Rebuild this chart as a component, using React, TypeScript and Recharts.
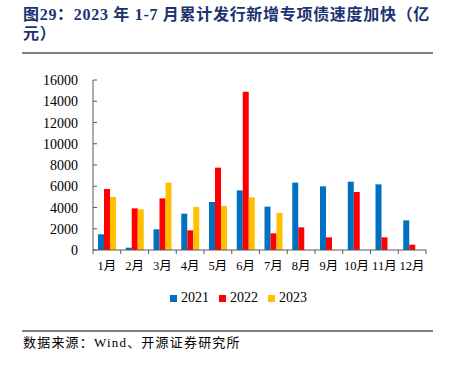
import React from 'react';
import { BarChart, Bar, XAxis, YAxis, Legend } from 'recharts';

const months = ['1月', '2月', '3月', '4月', '5月', '6月', '7月', '8月', '9月', '10月', '11月', '12月'];
const s2021 = [1480, 220, 1950, 3420, 4520, 5610, 4080, 6340, 5990, 6430, 6180, 2790];
const s2022 = [5740, 3920, 4860, 1850, 7750, 14900, 1570, 2130, 1190, 5460, 1190, 500];
const s2023: (number | null)[] = [4990, 3830, 6340, 4050, 4140, 4960, 3480, null, null, null, null, null];
const yTicks = [0, 2000, 4000, 6000, 8000, 10000, 12000, 14000, 16000];

const data = months.map((m, i) => ({ m, a: s2021[i], b: s2022[i], c: s2023[i] }));

const SERIF = '"Liberation Serif", "Times New Roman", serif';
const TITLE_FONT = '"Liberation Serif", "Noto Sans CJK SC", serif';

const YTick = (props: any) => {
  const { x, y, payload } = props;
  return (
    <g>
      <line x1={x + 15} x2={x + 19} y1={y} y2={y} stroke="#595959" strokeWidth={1} />
      <text x={x} y={y} dy={5} textAnchor="end" fontSize={14} fontFamily={SERIF} fill="#000">
        {payload.value}
      </text>
    </g>
  );
};

const XTick = (props: any) => {
  const { x, y, payload, index } = props;
  const half = payload && payload.offset ? payload.offset : 13.875;
  return (
    <g>
      <line x1={x - half} x2={x - half} y1={y} y2={y + 4} stroke="#595959" strokeWidth={1} />
      {index === months.length - 1 && (
        <line x1={x + half} x2={x + half} y1={y} y2={y + 4} stroke="#595959" strokeWidth={1} />
      )}
      <text x={x} y={y + 20} textAnchor="middle" fontSize={12.5} fontFamily={TITLE_FONT} fill="#000">
        {payload.value}
      </text>
    </g>
  );
};

export default function App() {
  return (
    <div style={{ position: 'absolute', left: 0, top: 0, width: 453, height: 369, background: '#fff', fontFamily: SERIF }}>
      <div
        style={{
          position: 'absolute',
          left: 23,
          top: 5,
          fontFamily: TITLE_FONT,
          fontWeight: 'bold',
          fontSize: 16,
          lineHeight: '19px',
          color: '#1B3370',
          letterSpacing: 0.7,
          whiteSpace: 'nowrap',
        }}
      >
        <div>图29：2023 年 1-7 月累计发行新增专项债速度加快（亿</div>
        <div>元）</div>
      </div>
      <div style={{ position: 'absolute', left: 22, top: 52, width: 411, height: 1.5, background: '#7f7f7f' }} />
      <div style={{ position: 'absolute', left: 0, top: 0 }}>
        <BarChart
          width={453}
          height={369}
          data={data}
          margin={{ top: 80, right: 27, bottom: 89, left: 33 }}
          barSize={6}
          barGap={0}
        >
          <XAxis
            dataKey="m"
            tickLine={false}
            tickSize={0}
            tickMargin={0}
            height={30}
            stroke="#595959"
            interval={0}
            tick={<XTick />}
          />
          <YAxis
            domain={[0, 16000]}
            ticks={yTicks}
            width={60}
            tickLine={false}
            tickSize={0}
            tickMargin={15}
            stroke="#595959"
            interval={0}
            tick={<YTick />}
          />
          <Legend
            layout="horizontal"
            align="center"
            verticalAlign="middle"
            iconType="square"
            iconSize={7}
            formatter={(v: string) => (
              <span style={{ color: '#000', fontSize: 14, fontFamily: SERIF }}>{v}</span>
            )}
            wrapperStyle={{ position: 'absolute', left: 170, top: 288, width: 'auto', height: 'auto' }}
          />
          <Bar dataKey="a" name="2021" fill="#0070C0" isAnimationActive={false} />
          <Bar dataKey="b" name="2022" fill="#FF0000" isAnimationActive={false} />
          <Bar dataKey="c" name="2023" fill="#FFC000" isAnimationActive={false} />
        </BarChart>
      </div>
      <div style={{ position: 'absolute', left: 22, top: 330, width: 411, height: 1.5, background: '#7f7f7f' }} />
      <div
        style={{
          position: 'absolute',
          left: 23,
          top: 335,
          fontFamily: TITLE_FONT,
          fontSize: 13,
          lineHeight: '16px',
          color: '#000',
          letterSpacing: 1.2,
          whiteSpace: 'nowrap',
        }}
      >
        数据来源：Wind、开源证券研究所
      </div>
    </div>
  );
}
